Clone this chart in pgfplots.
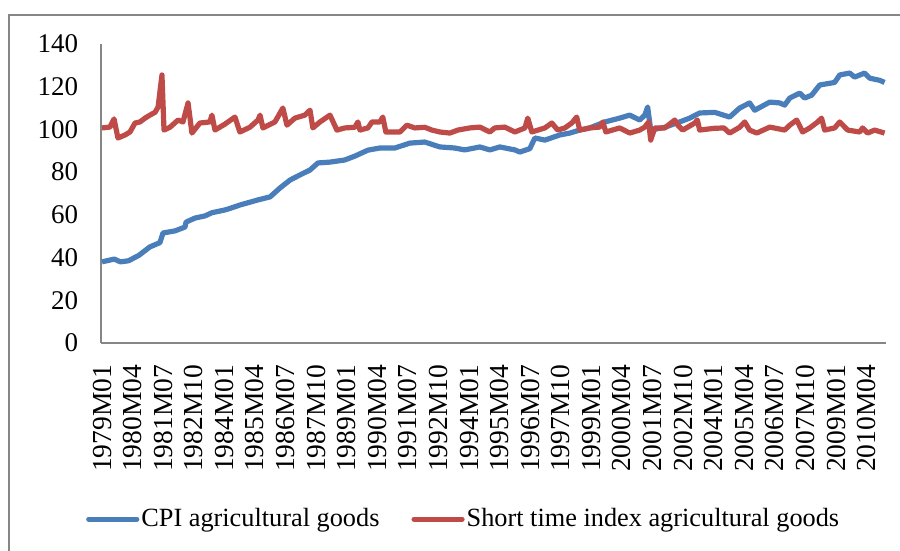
\documentclass[border=0pt]{standalone}
\usepackage{pgfplots}
\pgfplotsset{compat=1.18}
\usepackage{fontspec}
\setmainfont{Liberation Serif}
\definecolor{cpiblue}{HTML}{4A7EBB}
\definecolor{strred}{HTML}{BE4B48}
\definecolor{axgray}{HTML}{868686}
\begin{document}
\fontsize{26pt}{30pt}\selectfont
\begin{tikzpicture}[x=1pt,y=1pt]
\useasboundingbox (0,0) rectangle (900,550);
\draw[axgray, line width=1.2pt] (9,-5) -- (9,535) -- (905,535);
\begin{axis}[
  at={(101pt,207pt)}, anchor=south west,
  scale only axis, width=785pt, height=299pt,
  xmin=-0.5, xmax=384.5, ymin=0, ymax=140,
  axis x line=bottom, axis y line=left,
  axis line style={axgray, line width=1.5pt, -},
  major tick length=0pt,
  ytick={0,20,...,140},
  xtick={0,15,...,375},
  xticklabels={1979M01,1980M04,1981M07,1982M10,1984M01,1985M04,1986M07,1987M10,1989M01,1990M04,1991M07,1992M10,1994M01,1995M04,1996M07,1997M10,1999M01,2000M04,2001M07,2002M10,2004M01,2005M04,2006M07,2007M10,2009M01,2010M04},
  xticklabel style={rotate=90, anchor=east, xshift=-13pt, font=\fontsize{27.5pt}{31pt}\selectfont},
  yticklabel style={xshift=-14pt, font=\fontsize{27pt}{31pt}\selectfont},
  /pgf/number format/assume math mode=true,
  clip=false,
  legend columns=2,
  legend style={at={(0.462,-0.589)}, anchor=center, draw=none, fill=none,
    font=\fontsize{26.3pt}{30pt}\selectfont,
    /tikz/every even column/.append style={column sep=30pt},
    inner sep=0pt, nodes={inner sep=2pt}},
  legend image code/.code={\draw[#1, line cap=round] (0pt,0pt) -- (48pt,0pt);},
]
\addplot[cpiblue, line width=5.2pt, line join=round] coordinates {
(0,38) (6,39.3) (9,38) (13,38.5) (18,41) (23.5,45) (28.4,47) (29.9,51.5) (35.8,52.5) (40.7,54.3) (41.2,56.6) (45.6,58.5) (50.5,59.5) (53.9,61) (60.3,62.3) (62.7,63) (67.6,64.6) (76.5,67) (82.4,68.4) (87.3,72.6) (92.2,76.3) (97.1,78.7) (102,81) (105.9,84.3) (111.8,84.7) (119.1,85.7) (124,87.5) (130.4,90.3) (136.3,91.3) (143.6,91.3) (151,93.6) (158.3,94.1) (165.7,91.8) (173,91.3) (177.9,90.4) (185.3,91.8) (190.2,90.4) (195.1,91.8) (202.5,90.4) (204.9,89.4) (209.8,91) (212.3,96) (217.2,95) (224.5,97.4) (229.4,98.3) (234.3,99.7) (239.2,100.7) (246.6,103.5) (253.9,105.3) (258.8,106.7) (263.7,104.4) (266.2,106.7) (267.6,110.5) (269.1,99.7) (276,101) (283.3,103.5) (288.2,105.3) (293.1,107.7) (300.5,108) (307.8,105.8) (312.7,110) (317.6,112.4) (320.1,109) (327.5,112.8) (332.4,112.4) (334.8,111.4) (337.3,114.7) (342.2,117) (344.6,114.7) (348,116) (352,120.8) (359.3,122) (361.8,125.5) (366.7,126.4) (369.1,124.5) (374,126.4) (376.5,124) (381.4,123) (383.8,122)
};
\addlegendentry{CPI agricultural goods}
\addplot[strred, line width=5.2pt, line join=round] coordinates {
(0,100.7) (3.9,101.1) (5.9,104.9) (7.8,96) (11.3,97.4) (13.7,98.8) (16.2,103) (18.6,103.5) (21.1,105.3) (23.5,106.7) (26,108) (27.5,110.5) (29.4,125.5) (30.4,99.7) (33.3,101) (37.3,104.4) (39.7,103.5) (42.2,112.4) (44.1,98.3) (48,103) (52.9,103.5) (53.9,106.7) (55.4,99.7) (60.3,102.5) (65.2,105.8) (67.6,98.8) (72.5,101) (76.5,104.4) (77.5,106.7) (78.9,100.7) (84.8,103.5) (88.7,110) (90.7,102) (94.6,105.3) (99.5,106.7) (102,109) (103.4,100.7) (106.9,103.5) (111.8,106.7) (115.2,99.7) (119.1,100.7) (124,101) (125.5,103.5) (126.5,99.7) (130.4,100.7) (132.4,103.5) (136.3,103.5) (137.7,105.8) (139.2,98.8) (146.1,98.8) (149.5,102) (153.4,100.7) (158.3,101) (161.8,99.7) (165.7,98.8) (170.6,98.3) (174.5,99.7) (180.4,100.7) (185.3,101.1) (190.2,98.8) (192.6,100.7) (197.5,101.1) (202.5,98.8) (207.4,100.7) (208.8,105.3) (210.8,98.8) (217.2,100.7) (220.6,103) (223.5,99.7) (227,100.7) (230.4,103) (232.8,105.8) (234.3,99.7) (239.2,100.7) (244.1,101.1) (245.6,103.5) (247.1,98.8) (253.9,100.7) (258.8,98.3) (263.7,99.7) (266.2,101.1) (268.1,103.5) (269.1,95) (271.1,100.7) (276,100.7) (280.9,104.4) (282.4,102) (284.8,99.7) (290.7,103) (292,104.4) (293.1,99.7) (300,100.5) (305,100.7) (307.8,98.3) (312.7,101) (315.2,103.5) (317.6,99.7) (321.1,98.3) (327.5,101.1) (334.8,99.7) (337.3,102) (340.7,104.4) (343.6,98.8) (347.1,100.7) (351,103.5) (352.9,105.3) (354.4,99.7) (359.3,100.7) (361.8,103.5) (365.7,99.7) (371.6,98.8) (373,100.7) (375.5,98.3) (378.9,99.7) (383.8,98.3)
};
\addlegendentry{Short time index agricultural goods}
\end{axis}
\end{tikzpicture}
\end{document}
